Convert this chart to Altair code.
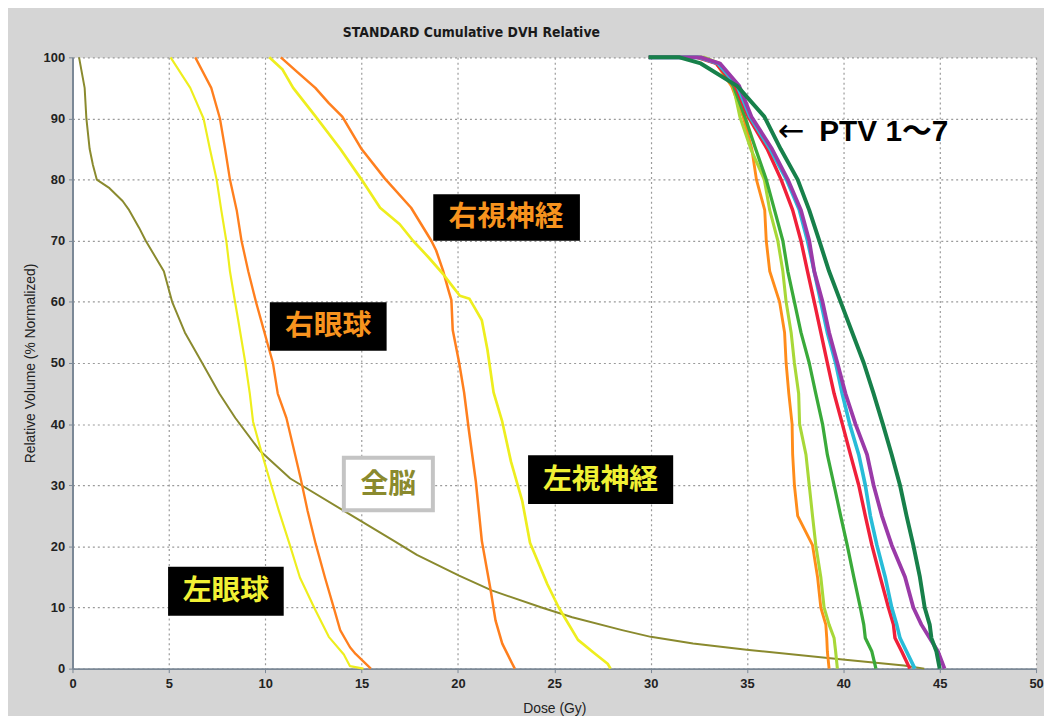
import altair as alt
import pandas as pd

# ---------------- data ----------------
series_names = ["全脳", "左眼球", "右眼球", "右視神経", "左視神経",
                "PTV1", "PTV2", "PTV3", "PTV4", "PTV5", "PTV6", "PTV7"]
series_colors = ["#8a8a2e", "#eeee1e", "#ff7f1e", "#ff7f1e", "#eeee1e",
                 "#ff8c1a", "#a8d838", "#3aaa3a", "#f0203a", "#28bcd8", "#9a3aa8", "#17804a"]
series_widths = [2, 4, 1.8, 1.8, 4, 2, 2, 2, 2, 2, 2, 2]

brain_dose = [0.34, 0.63, 0.72, 0.89, 1.06, 1.26, 1.92, 2.6, 2.94, 3.46, 3.8, 4.74, 5.17, 5.83, 6.73,
              7.62, 8.45, 9.71, 11.3, 14.09, 16.68, 17.87, 20.06, 21.75, 24.34, 25.93, 28.52, 30.01,
              32.2, 34.98, 39.96, 43.14, 44.2]
brain_vol = [100, 95, 90, 85, 82.4, 80, 78.6, 76.5, 75, 72.1, 70, 65, 60, 55, 50,
             45, 41, 35.7, 31.1, 25.8, 20.9, 18.6, 15.2, 12.8, 10, 8.4, 6.3, 5.2,
             4.1, 3.1, 1.5, 0.5, 0]

leye_dose = [5.09, 6.11, 6.8, 7.13, 7.48, 7.72, 7.98, 8.17, 8.38, 8.6, 8.97, 9.2, 9.37, 9.78, 10.21,
             10.71, 11.26, 11.8, 12.6, 13.3, 14.08, 14.4, 15.1]
leye_vol = [100, 95, 90, 85, 80, 75, 70, 65, 61, 57, 50, 45, 40.4, 35.7, 31.1,
            25.8, 20.4, 14.9, 9.6, 5.2, 2.3, 0.4, 0]

reye_dose = [6.37, 7.2, 7.65, 7.92, 8.17, 8.52, 8.77, 9.12, 9.52, 9.96, 10.4, 10.65, 11.1, 11.5, 11.84,
             12.2, 12.62, 13.1, 13.59, 13.89, 14.4, 14.69, 15.28, 15.48]
reye_vol = [100, 95, 90, 85, 80, 75, 70, 65, 60, 55, 50, 45, 41, 35.7, 31.1,
            25.8, 20.4, 14.9, 9.6, 6.3, 3.5, 2.4, 0.6, 0]

ron_dose = [10.81, 11.7, 12.6, 13.3, 14.0, 15.0, 16.2, 17.57, 18.62, 18.87, 19.22, 19.5, 19.66, 19.73,
            20.06, 20.32, 20.56, 20.93, 21.24, 21.7, 21.95, 22.3, 22.82, 22.95]
ron_vol = [100, 97.5, 95, 92.5, 90.3, 85, 80.2, 75.4, 70, 68.4, 65.2, 62, 60.3, 55.4,
           50.1, 45.2, 39.2, 30.6, 20.9, 12.8, 7.9, 4.1, 0.8, 0]

lon_dose = [10.21, 10.9, 11.45, 12.0, 12.62, 13.9, 15.0, 15.96, 16.98, 17.67, 18.47, 19.22, 19.73, 20.1,
            20.6, 20.93, 21.24, 21.53, 21.85, 22.3, 22.75, 23.34, 23.74, 24.64, 25.23, 25.53, 26.23,
            27.13, 27.77, 27.92]
lon_vol = [100, 98, 95, 92.8, 90.3, 85, 80, 75.4, 72.7, 70, 67.3, 64.6, 62.5, 61,
           60.5, 58.7, 57, 52.2, 45.2, 40.4, 33.9, 27.4, 20.6, 13.8, 10, 8.4, 4.7,
           2.4, 0.8, 0]

ptv_vol = [100, 100, 99, 95.3, 90.3, 85, 80, 75, 70, 65, 60, 55, 50, 45, 40, 35, 30, 25, 20.2, 15, 10, 7.2, 5, 2.8, 0]
ptv1_dose = [29.9, 32.5, 33.4, 34.2, 34.8, 35.25, 35.49, 35.92, 36.0, 36.18, 36.69, 36.95, 37.03, 37.17,
             37.34, 37.37, 37.46, 37.63, 38.4, 38.66, 38.83, 39.09, 39.14, 39.17, 39.26]
ptv2_dose = [29.9, 32.8, 33.6, 34.29, 34.63, 35.2, 35.9, 36.18, 36.6, 36.86, 37.03, 37.29, 37.46, 37.68,
             37.73, 38.06, 38.23, 38.4, 38.57, 38.83, 39.0, 39.26, 39.52, 39.6, 39.69]
ptv3_dose = [29.9, 32.6, 33.5, 34.3, 34.89, 35.45, 36.0, 36.43, 36.86, 37.12, 37.46, 37.8, 38.23, 38.57,
             38.92, 39.17, 39.52, 39.86, 40.2, 40.54, 40.88, 41.06, 41.14, 41.48, 41.69]
ptv4_dose = [29.9, 32.4, 33.4, 34.4, 35.06, 36.05, 36.77, 37.37, 37.8, 38.14, 38.49, 38.83, 39.17, 39.52,
             39.95, 40.37, 40.8, 41.14, 41.48, 41.91, 42.34, 42.6, 42.68, 43.03, 43.45]
ptv5_dose = [29.9, 32.5, 33.5, 34.5, 35.15, 36.2, 37.05, 37.72, 38.14, 38.49, 38.83, 39.17, 39.6, 39.94,
             40.33, 40.8, 41.14, 41.4, 41.74, 42.17, 42.51, 42.77, 42.94, 43.28, 43.71]
ptv6_dose = [29.9, 32.6, 33.6, 34.6, 35.23, 36.3, 37.12, 37.8, 38.23, 38.49, 38.92, 39.26, 39.69, 40.11,
             40.63, 41.23, 41.57, 42.0, 42.51, 43.2, 43.63, 44.05, 44.48, 44.91, 45.25]
ptv7_dose = [29.9, 31.5, 32.6, 34.5, 35.9, 36.75, 37.63, 38.23, 38.75, 39.26, 39.86, 40.46, 41.06, 41.57,
             42.05, 42.51, 42.94, 43.28, 43.63, 43.97, 44.22, 44.48, 44.57, 44.83, 45.0]

# annotation labels: text, colour, centre (dose, vol), box (dose1, dose2, vol1, vol2)
label_text = ["右視神経", "右眼球", "左視神経", "左眼球"]
label_color = ["#f7931e", "#f7931e", "#f0f034", "#f0f034"]
label_dose = [22.5, 13.27, 27.4, 7.96]
label_vol = [73.8, 56.0, 30.9, 12.66]
box_x1 = [18.72, 10.24, 23.64, 4.96]
box_x2 = [26.33, 16.30, 31.17, 10.96]
box_y1 = [70.0, 52.0, 26.95, 8.65]
box_y2 = [77.6, 59.95, 34.9, 16.67]

brain_label = "全脳"
brain_label_pos = [16.39, 30.1]
brain_box = [14.08, 18.70, 25.9, 34.5]

ptv_label = "PTV 1～7"
ptv_label_pos = [38.75, 87.7]
arrow_pos = [36.6, 87.9]

chart_title = "STANDARD Cumulative DVH Relative"
x_title = "Dose (Gy)"
y_title = "Relative Volume (% Normalized)"

# ---------------- build tables ----------------
curves = [
    (brain_dose, brain_vol), (leye_dose, leye_vol), (reye_dose, reye_vol),
    (ron_dose, ron_vol), (lon_dose, lon_vol),
    (ptv1_dose, ptv_vol), (ptv2_dose, ptv_vol), (ptv3_dose, ptv_vol), (ptv4_dose, ptv_vol),
    (ptv5_dose, ptv_vol), (ptv6_dose, ptv_vol), (ptv7_dose, ptv_vol),
]
rows = []
for name, (ds, vs) in zip(series_names, curves):
    for i, (d, v) in enumerate(zip(ds, vs)):
        rows.append({"series": name, "dose": d, "vol": v, "idx": i})
df = pd.DataFrame(rows)

labels_df = pd.DataFrame({
    "text": label_text, "color": label_color, "dose": label_dose, "vol": label_vol,
    "x1": box_x1, "x2": box_x2, "y1": box_y1, "y2": box_y2,
})

W, H = 971, 616

xscale = alt.Scale(domain=[0, 50], nice=False, zero=False)
yscale = alt.Scale(domain=[0, 100], nice=False)

common_axis = dict(
    grid=True, gridColor="#9a9a9a", gridDash=[2, 3], gridWidth=1.2,
    domainColor="#7b8896", domainWidth=2, tickColor="#7b8896", tickSize=4,
    labelFont="Liberation Sans", labelFontWeight="bold", labelFontSize=13, labelColor="#222222",
    titleFont="Liberation Sans", titleFontSize=14, titleFontWeight="normal", titleColor="#222222",
)

x_enc = alt.X("dose:Q", scale=xscale,
              axis=alt.Axis(values=list(range(0, 51, 5)), title=x_title, labelPadding=5,
                            titlePadding=11, labelFlush=False, **common_axis))
y_enc = alt.Y("vol:Q", scale=yscale,
              axis=alt.Axis(values=list(range(0, 101, 5)), title=y_title, labelPadding=4,
                            titlePadding=6, **common_axis))

lines = alt.Chart(df).mark_line(interpolate="linear", strokeJoin="round").encode(
    x=x_enc, y=y_enc,
    color=alt.Color("series:N", scale=alt.Scale(domain=series_names, range=series_colors), legend=None),
    strokeWidth=alt.StrokeWidth("series:N", scale=alt.Scale(domain=series_names, range=series_widths), legend=None),
    order="idx:Q",
)

boxes = alt.Chart(labels_df).mark_rect(color="#000000").encode(
    x="x1:Q", x2="x2", y="y1:Q", y2="y2"
)
texts = alt.Chart(labels_df).mark_text(
    font="Noto Sans CJK JP", fontSize=29, fontWeight="bold", align="center", baseline="middle"
).encode(
    x="dose:Q", y="vol:Q", text="text:N", color=alt.Color("color:N", scale=None)
)

bbox_df = pd.DataFrame({"x1": [brain_box[0]], "x2": [brain_box[1]], "y1": [brain_box[2]], "y2": [brain_box[3]]})
brain_box_mark = alt.Chart(bbox_df).mark_rect(fill="#ffffff", stroke="#c4c4c4", strokeWidth=4).encode(
    x="x1:Q", x2="x2", y="y1:Q", y2="y2"
)
brain_text = alt.Chart(pd.DataFrame({"t": [brain_label], "d": [brain_label_pos[0]], "v": [brain_label_pos[1]]})).mark_text(
    font="Noto Sans CJK JP", fontSize=28, fontWeight="bold", color="#8a8a2e", align="center", baseline="middle"
).encode(x="d:Q", y="v:Q", text="t:N")

ptv_text = alt.Chart(pd.DataFrame({"t": [ptv_label], "d": [ptv_label_pos[0]], "v": [ptv_label_pos[1]]})).mark_text(
    font="Liberation Sans, Noto Sans CJK JP", fontSize=30, fontWeight="bold", color="#000000",
    align="left", baseline="middle"
).encode(x="d:Q", y="v:Q", text="t:N")

arrow_text = alt.Chart(pd.DataFrame({"t": ["←"], "d": [arrow_pos[0]], "v": [arrow_pos[1]]})).mark_text(
    font="DejaVu Sans", fontSize=32, fontWeight="normal", color="#000000",
    align="left", baseline="middle"
).encode(x="d:Q", y="v:Q", text="t:N")

title_mark = alt.Chart(pd.DataFrame({"t": [chart_title]})).mark_text(
    font="DejaVu Sans Condensed, Liberation Sans", fontSize=14, fontWeight="bold",
    color="#1a1a1a", align="center", baseline="middle"
).encode(x=alt.value(402), y=alt.value(-25), text="t:N")

chart = alt.layer(
    lines, boxes, texts, brain_box_mark, brain_text, ptv_text, arrow_text, title_mark
).properties(
    width=W, height=H,
    autosize=alt.AutoSizeParams(type="none"),
    padding={"left": 65, "top": 47, "right": 8, "bottom": 45},
    background="#d5d5d5",
).configure_view(fill="#ffffff", strokeOpacity=0)

chart.save("out.html", embed_options={"renderer": "svg", "actions": False})
